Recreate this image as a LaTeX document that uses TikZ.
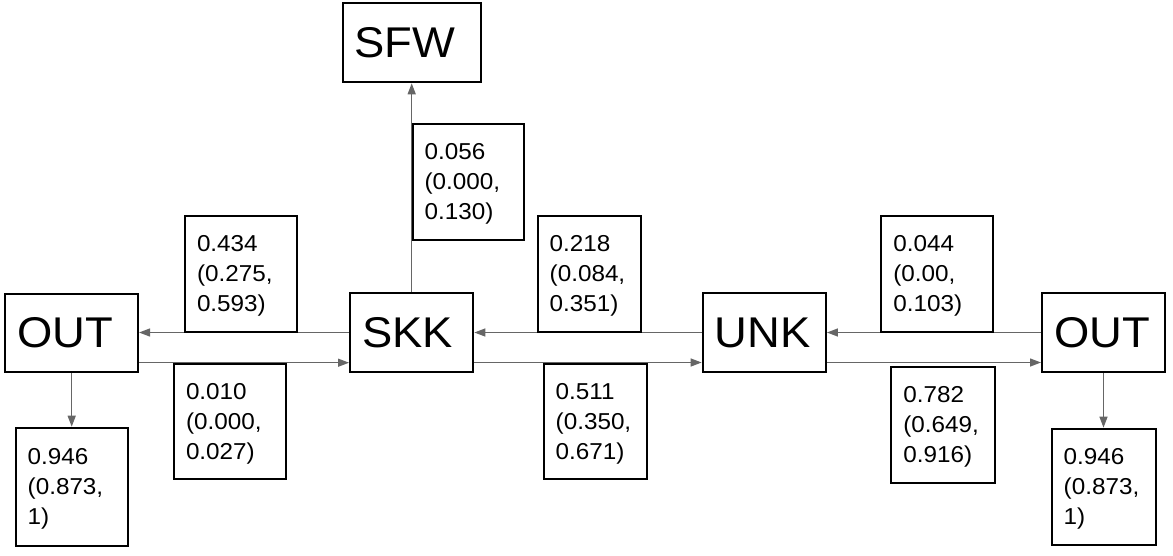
\documentclass[tikz,border=0pt]{standalone}
\usepackage{fontspec}
\setmainfont{Liberation Sans}[FakeStretch=1.055]
\usetikzlibrary{arrows.meta}
\definecolor{arrgray}{HTML}{666666}
\pgfdeclarelayer{bg}
\pgfsetlayers{bg,main}
\begin{document}
\begin{tikzpicture}[x=1pt,y=-1pt,
  box/.style={draw=black, line width=2pt, rectangle, inner xsep=12pt, inner ysep=0pt, align=left, font=\fontsize{43}{50}\selectfont},
  lbl/.style={draw=black, fill=white, line width=2pt, rectangle, inner xsep=12pt, inner ysep=0pt, align=left, text depth=60pt, font=\fontsize{23}{30}\selectfont},
  arr/.style={draw=arrgray, line width=1.3pt, -{Triangle[length=11pt,width=8pt]}}
]
\useasboundingbox (0,0) rectangle (1173,555);
% main boxes
\node[box, minimum width=132.7pt, minimum height=78pt, text width=108.7pt] (outL) at (71.7,332.7) {OUT};
\node[box, minimum width=123.3pt, minimum height=78.4pt, text width=99.3pt] (skk) at (411.7,332.5) {SKK};
\node[box, minimum width=123.3pt, minimum height=79pt, text width=99.3pt] (unk) at (764.3,332.5) {UNK};
\node[box, minimum width=123pt, minimum height=79pt, text width=99pt] (outR) at (1103.5,332.5) {OUT};
\node[box, minimum width=138.6pt, minimum height=79.6pt, text width=114.6pt] (sfw) at (412,42.5) {SFW};
% labels
\node[lbl, minimum width=112pt, minimum height=115.7pt, text width=88pt] (l434) at (241,273.8) {0.434\\(0.275,\\0.593)};
\node[lbl, minimum width=112pt, minimum height=115.3pt, text width=88pt] (l010) at (230,421.3) {0.010\\(0.000,\\0.027)};
\node[lbl, minimum width=112pt, minimum height=118pt, text width=88pt] (l946L) at (71.7,486.7) {0.946\\(0.873,\\1)};
\node[lbl, minimum width=111.3pt, minimum height=116pt, text width=87.3pt] (l056) at (468.3,181.7) {0.056\\(0.000,\\0.130)};
\node[lbl, minimum width=103pt, minimum height=115.7pt, text width=79pt] (l218) at (589.2,273.8) {0.218\\(0.084,\\0.351)};
\node[lbl, minimum width=103pt, minimum height=115.3pt, text width=79pt] (l511) at (595.2,421.3) {0.511\\(0.350,\\0.671)};
\node[lbl, minimum width=112pt, minimum height=116pt, text width=88pt] (l044) at (937.3,273.7) {0.044\\(0.00,\\0.103)};
\node[lbl, minimum width=104pt, minimum height=116pt, text width=80pt] (l782) at (943.3,424.7) {0.782\\(0.649,\\0.916)};
\node[lbl, minimum width=104pt, minimum height=116.3pt, text width=80pt] (l946R) at (1103.7,486.8) {0.946\\(0.873,\\1)};
% connectors
\coordinate (a1) at ([yshift=-30pt]outL.east);
\coordinate (a2) at ([yshift=-30pt]skk.east);
\coordinate (a3) at ([yshift=-30pt]unk.east);
\begin{pgfonlayer}{bg}
\fill[white] (0,0) rectangle (1173,555);
\draw[arr] (skk.west) -- (skk.west -| outL.east);
\draw[arr] (a1) -- (a1 -| skk.west);
\draw[arr] (unk.west) -- (unk.west -| skk.east);
\draw[arr] (a2) -- (a2 -| unk.west);
\draw[arr] (outR.west) -- (outR.west -| unk.east);
\draw[arr] (a3) -- (a3 -| outR.west);
\draw[arr] (skk.north) -- (skk.north |- sfw.south);
\draw[arr] (outL.south) -- (outL.south |- l946L.north);
\draw[arr] (outR.south) -- (outR.south |- l946R.north);
\end{pgfonlayer}
\end{tikzpicture}
\end{document}
